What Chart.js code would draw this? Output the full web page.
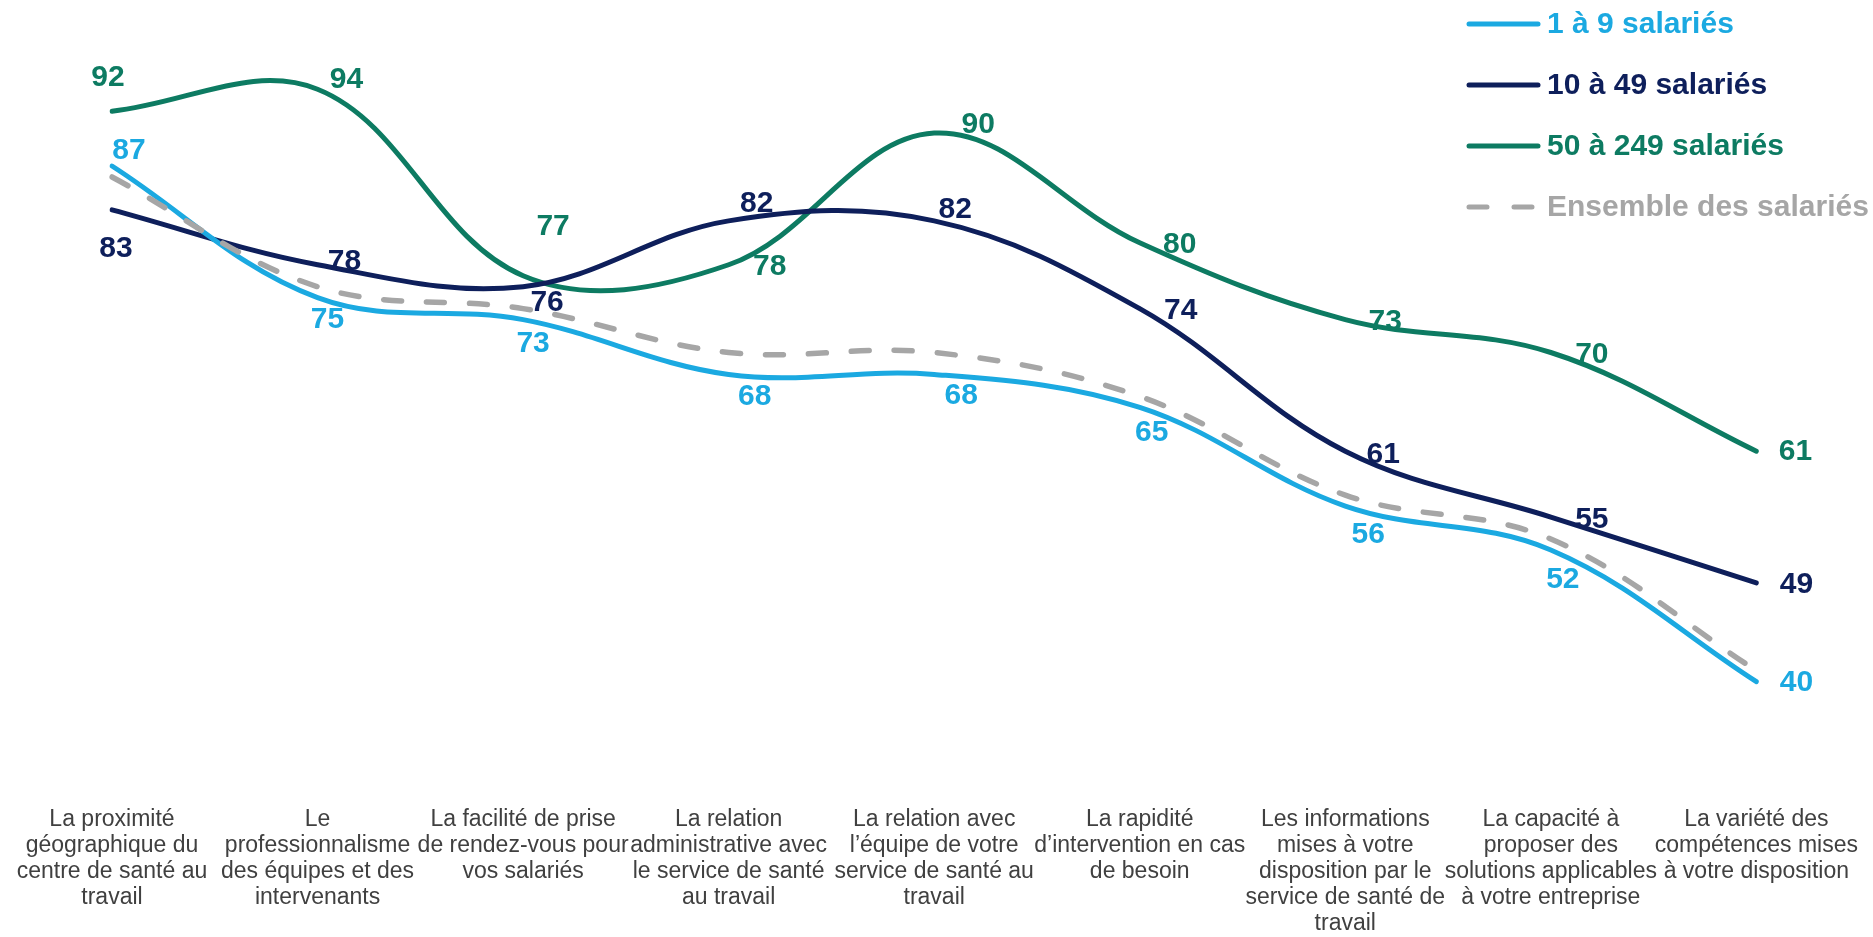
<!DOCTYPE html>
<html>
<head>
<meta charset="utf-8">
<script src="https://cdn.jsdelivr.net/npm/chart.js@4.4.0/dist/chart.umd.min.js"></script>
<style>
  html, body { margin: 0; padding: 0; background: #fff; }
  #wrap { width: 1873px; height: 937px; position: relative; }
</style>
</head>
<body>
<div id="wrap"><canvas id="chart"></canvas></div>
<script>
// categories, one array of lines per tick label
const categories = [
  ["La proximité", "géographique du", "centre de santé au", "travail"],
  ["Le", "professionnalisme", "des équipes et des", "intervenants"],
  ["La facilité de prise", "de rendez-vous pour", "vos salariés"],
  ["La relation", "administrative avec", "le service de santé", "au travail"],
  ["La relation avec", "l’équipe de votre", "service de santé au", "travail"],
  ["La rapidité", "d’intervention en cas", "de besoin"],
  ["Les informations", "mises à votre", "disposition par le", "service de santé de", "travail"],
  ["La capacité à", "proposer des", "solutions applicables", "à votre entreprise"],
  ["La variété des", "compétences mises", "à votre disposition"]
];

const seriesNames = ["1 à 9 salariés", "10 à 49 salariés", "50 à 249 salariés", "Ensemble des salariés"];
const small = [87, 75, 73, 68, 68, 65, 56, 52, 40];
const medium = [83, 78, 76, 82, 82, 74, 61, 55, 49];
const large = [92, 94, 77, 78, 90, 80, 73, 70, 61];
const overall = [86, 76, 74, 70, 70, 66, 57, 53, 41];

const colors = ["#1BA9E1", "#0E1F5B", "#0D7B62", "#A6A6A6"];

// where each value label sits relative to its point (px)
const labelOffsets = [
  [[17, -15], [10, 22], [10, 24], [26, 22], [27, 21], [12, 25], [23, 29], [12, 30], [40, 1]],
  [[4, 39], [27, -3], [24, 16], [28, -17], [21, -11], [41, 2], [38, 4], [41, 3], [40, 2]],
  [[-4, -33], [29, -9], [30, -49], [41, 2], [44, -8], [40, 2], [40, 2], [41, 2], [39, 1]],
  null
];

const FONT = '"Liberation Sans", Arial, sans-serif';

const valueLabels = {
  id: 'valueLabels',
  afterDatasetsDraw(chart) {
    const ctx = chart.ctx;
    ctx.save();
    ctx.font = 'bold 30px ' + FONT;
    ctx.textAlign = 'center';
    ctx.textBaseline = 'middle';
    chart.data.datasets.forEach((ds, i) => {
      const offs = labelOffsets[i];
      if (!offs) return;
      ctx.fillStyle = ds.borderColor;
      chart.getDatasetMeta(i).data.forEach((pt, j) => {
        ctx.fillText(ds.data[j], pt.x + offs[j][0], pt.y + offs[j][1]);
      });
    });
    ctx.restore();
  }
};

const sideLegend = {
  id: 'sideLegend',
  afterDraw(chart) {
    const ctx = chart.ctx;
    ctx.save();
    ctx.font = 'bold 30px ' + FONT;
    ctx.textBaseline = 'middle';
    ctx.textAlign = 'left';
    chart.data.datasets.forEach((ds, i) => {
      const y = 24 + i * 61;
      ctx.strokeStyle = ds.borderColor;
      ctx.lineWidth = 5;
      ctx.lineCap = 'round';
      ctx.setLineDash(ds.borderDash ? [18, 27] : []);
      ctx.beginPath();
      ctx.moveTo(1469, y);
      ctx.lineTo(1538, y);
      ctx.stroke();
      ctx.fillStyle = ds.borderColor;
      ctx.fillText(ds.label, 1547, y + 1);
    });
    ctx.restore();
  }
};

const ctx = document.getElementById('chart').getContext('2d');

new Chart(ctx, {
  type: 'line',
  data: {
    labels: categories,
    datasets: [
      { label: seriesNames[0], data: small, borderColor: colors[0], borderWidth: 5, order: 1 },
      { label: seriesNames[1], data: medium, borderColor: colors[1], borderWidth: 5, order: 2 },
      { label: seriesNames[2], data: large, borderColor: colors[2], borderWidth: 5, order: 3 },
      { label: seriesNames[3], data: overall, borderColor: colors[3], borderWidth: 5.5,
        borderDash: [18, 25], order: 0 }
    ]
  },
  options: {
    responsive: true,
    maintainAspectRatio: false,
    animation: false,
    layout: { padding: { left: 112, right: 116, top: 23.4, bottom: 0 } },
    elements: {
      line: { tension: 0.37, fill: false, borderCapStyle: 'round' },
      point: { radius: 0, hoverRadius: 0 }
    },
    plugins: {
      legend: { display: false },
      tooltip: { enabled: false }
    },
    scales: {
      y: { display: false, min: 30, max: 100 },
      x: {
        offset: false,
        grid: { display: false, drawTicks: false },
        border: { display: false },
        afterFit(scale) { scale.height = 145.7; },
        ticks: {
          autoSkip: false,
          maxRotation: 0,
          padding: 15,
          color: '#404040',
          font: { family: FONT, size: 23, lineHeight: '26px' }
        }
      }
    }
  },
  plugins: [valueLabels, sideLegend]
});
</script>
</body>
</html>
